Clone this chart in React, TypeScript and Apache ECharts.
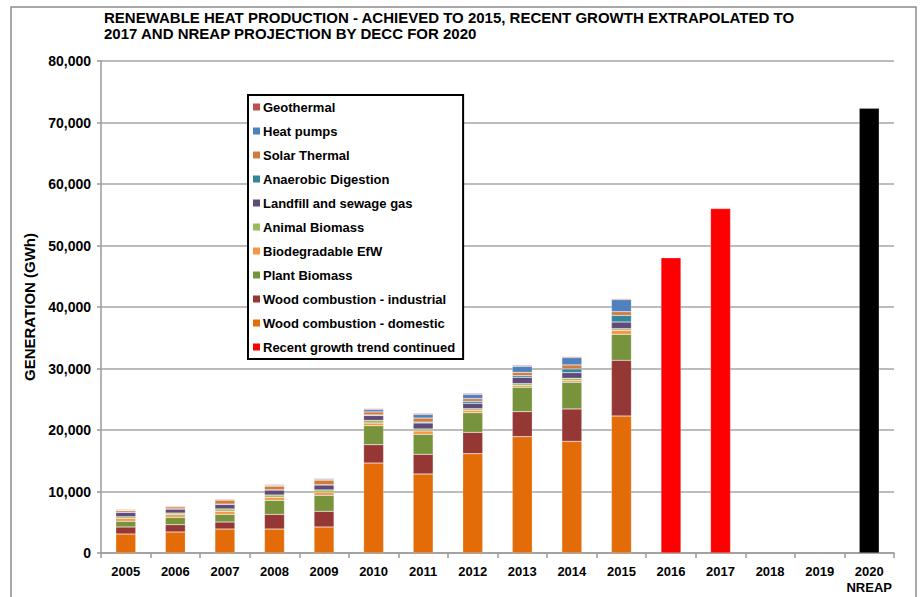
import React, { useEffect, useRef } from "react";
import * as echarts from "echarts";

const categories = ["2005","2006","2007","2008","2009","2010","2011","2012","2013","2014","2015","2016","2017","2018","2019","2020\nNREAP"];
const woodDomestic = [3090, 3415, 3900, 3900, 4230, 14630, 12850, 16150, 18920, 18160, 22280];
const woodIndustrial = [1140, 1190, 1140, 2380, 2550, 2980, 3200, 3470, 4070, 5260, 9050];
const plantBiomass = [920, 1190, 1250, 2280, 2600, 3090, 3250, 3200, 3960, 4340, 4230];
const biodegradableEfW = [490, 430, 490, 490, 490, 430, 540, 380, 270, 270, 650];
const animalBiomass = [270, 270, 380, 380, 380, 430, 325, 270, 325, 380, 270];
const landfillGas = [700, 650, 760, 810, 810, 810, 975, 870, 1030, 920, 1080];
const anaerobicDigestion = [30, 30, 30, 30, 30, 80, 150, 325, 270, 600, 1080];
const solarThermal = [270, 325, 650, 600, 760, 490, 650, 430, 540, 650, 600];
const heatPumps = [50, 50, 100, 150, 160, 380, 600, 700, 975, 1190, 1950];
const geothermal = [120, 120, 120, 120, 120, 160, 160, 160, 160, 160, 160];
const recentGrowth = ["-", "-", "-", "-", "-", "-", "-", "-", "-", "-", "-", 48000, 56000, "-", "-", "-"];
const nreap = ["-", "-", "-", "-", "-", "-", "-", "-", "-", "-", "-", "-", "-", "-", "-", 72300];
const yTicks = { min: 0, max: 80000, interval: 10000 };

const FONT = "'Liberation Sans', Arial, sans-serif";

const pad = (arr: (number | string)[]) => {
  const out: (number | string)[] = arr.slice();
  while (out.length < categories.length) out.push("-");
  return out;
};

const stackSeries: [string, (number | string)[], string][] = [
  ["Wood combustion - domestic", woodDomestic, "#E36C09"],
  ["Wood combustion - industrial", woodIndustrial, "#953735"],
  ["Plant Biomass", plantBiomass, "#77933C"],
  ["Biodegradable EfW", biodegradableEfW, "#F79646"],
  ["Animal Biomass", animalBiomass, "#9BBB59"],
  ["Landfill and sewage gas", landfillGas, "#604A7B"],
  ["Anaerobic Digestion", anaerobicDigestion, "#31859C"],
  ["Solar Thermal", solarThermal, "#D07C3C"],
  ["Heat pumps", heatPumps, "#4F81BD"],
  ["Geothermal", geothermal, "#C0504D"],
  ["Recent growth trend continued", recentGrowth, "#FF0000"],
  ["NREAP", nreap, "#000000"],
];

const legendOrder = [
  "Geothermal", "Heat pumps", "Solar Thermal", "Anaerobic Digestion", "Landfill and sewage gas",
  "Animal Biomass", "Biodegradable EfW", "Plant Biomass", "Wood combustion - industrial",
  "Wood combustion - domestic", "Recent growth trend continued",
];

export default function App() {
  const ref = useRef<HTMLDivElement>(null);
  useEffect(() => {
    if (!ref.current) return;
    const chart = echarts.init(ref.current, null, { renderer: "svg" });
    chart.setOption({
      animation: false,
      backgroundColor: "#fff",
      textStyle: { fontFamily: FONT },
      title: {
        text: "RENEWABLE HEAT PRODUCTION - ACHIEVED TO 2015, RECENT GROWTH EXTRAPOLATED TO\n2017 AND NREAP PROJECTION BY DECC FOR 2020",
        left: 104,
        top: 9,
        padding: 0,
        textStyle: { fontFamily: FONT, fontSize: 15, fontWeight: "bold", color: "#000", lineHeight: 16 },
      },
      graphic: [
        {
          type: "rect",
          shape: { x: 11, y: 7, width: 905, height: 600 },
          style: { fill: "none", stroke: "#8C8C8C", lineWidth: 1.5 },
          silent: true,
        },
      ],
      legend: {
        data: legendOrder,
        orient: "vertical",
        left: 248,
        top: 95,
        padding: [5, 8, 5, 5],
        itemGap: 10,
        itemWidth: 7,
        itemHeight: 7,
        borderColor: "#000",
        borderWidth: 2,
        backgroundColor: "#fff",
        icon: "rect",
        itemStyle: { borderWidth: 0 },
        textStyle: { fontFamily: FONT, fontSize: 13, fontWeight: "bold", color: "#000", lineHeight: 14, padding: [0, 0, 0, -2] },
      },
      grid: { left: 101, right: 27, top: 61, bottom: 44 },
      xAxis: {
        type: "category",
        data: categories,
        axisLine: { lineStyle: { color: "#9A9A9A", width: 1.5 } },
        axisTick: { show: true, length: 5, lineStyle: { color: "#9A9A9A", width: 1.5 } },
        axisLabel: { interval: 0, margin: 10, fontFamily: FONT, fontSize: 13, fontWeight: "bold", color: "#000", lineHeight: 16 },
      },
      yAxis: {
        type: "value",
        min: yTicks.min,
        max: yTicks.max,
        interval: yTicks.interval,
        name: "GENERATION (GWh)",
        nameLocation: "middle",
        nameGap: 61,
        nameRotate: 90,
        nameTextStyle: { fontFamily: FONT, fontSize: 15, fontWeight: "bold", color: "#000" },
        axisLine: { show: true, lineStyle: { color: "#9A9A9A", width: 1.5 } },
        axisTick: { show: true, length: 4, lineStyle: { color: "#9A9A9A", width: 1.5 } },
        axisLabel: {
          margin: 10,
          fontFamily: FONT,
          fontSize: 14,
          fontWeight: "bold",
          color: "#000",
          formatter: (v: number) => v.toLocaleString("en-US"),
        },
        splitLine: { lineStyle: { color: "#A6A6A6", width: 1.5 } },
      },
      series: stackSeries.map(([name, data, color]) => ({
        name,
        type: "bar",
        stack: "total",
        barWidth: 20,
        data: pad(data),
        itemStyle: { color, borderColor: "rgba(255,255,255,0.45)", borderWidth: 0.5 },
        emphasis: { disabled: true },
      })),
    });
    return () => chart.dispose();
  }, []);
  return <div ref={ref} style={{ position: "fixed", left: 0, top: 0, width: 921, height: 597 }} />;
}
